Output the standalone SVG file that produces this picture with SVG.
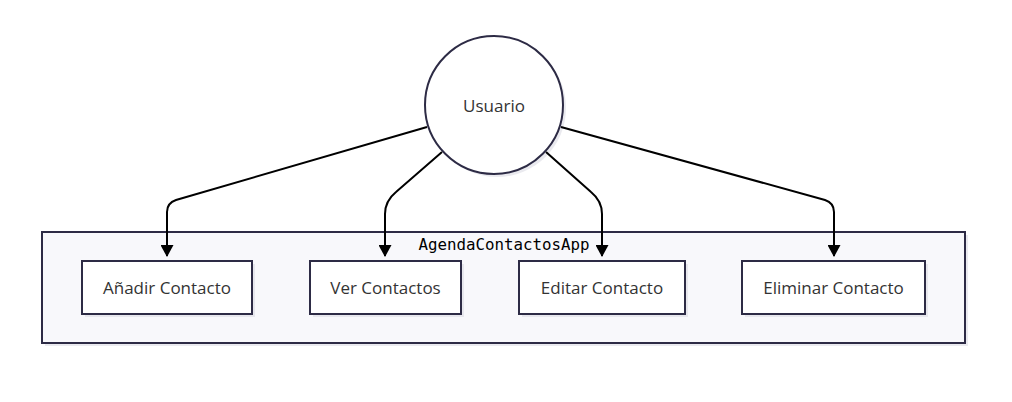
<svg xmlns="http://www.w3.org/2000/svg" width="1012" height="402" viewBox="0 0 1012 402">
<style>
.node{fill:#fff;stroke:#2d2b45;stroke-width:2}
.shadow{fill:#dcdce4;opacity:0.6}
.lbl{font-family:"Open Sans","Noto Sans",sans-serif;font-size:17px;fill:#333;text-anchor:middle;dominant-baseline:central}
.edge{fill:none;stroke:#000;stroke-width:2}
</style>
<defs>
<marker id="arr" viewBox="0 0 12 13" refX="11" refY="6.5" markerWidth="12" markerHeight="13" markerUnits="userSpaceOnUse" orient="auto">
<path d="M0,0 L12,6.5 L0,13 z" fill="#000"/>
</marker>
</defs>
<g id="cluster">
<rect x="45" y="235" width="923" height="111" class="shadow"/>
<rect x="42" y="232" width="923" height="111" fill="#f8f8fb" stroke="#2d2b45" stroke-width="2"/>
<text x="504" y="244" font-family="'DejaVu Sans Mono','Liberation Mono',monospace" font-size="15.8" fill="#000" text-anchor="middle" dominant-baseline="central">AgendaContactosApp</text>
</g>
<g id="usuario">
<circle cx="497" cy="108" r="69" class="shadow"/>
<circle cx="494" cy="105" r="69" class="node"/>
<text x="494" y="105" class="lbl">Usuario</text>
</g>
<g id="anadir">
<rect x="85" y="264" width="170" height="53" class="shadow"/>
<rect x="82" y="261" width="170" height="53" class="node"/>
<text x="167" y="287.5" class="lbl">Añadir Contacto</text>
</g>
<g id="ver">
<rect x="313" y="264" width="151" height="53" class="shadow"/>
<rect x="310" y="261" width="151" height="53" class="node"/>
<text x="385.5" y="287.5" class="lbl">Ver Contactos</text>
</g>
<g id="editar">
<rect x="522" y="264" width="166" height="53" class="shadow"/>
<rect x="519" y="261" width="166" height="53" class="node"/>
<text x="602" y="287.5" class="lbl">Editar Contacto</text>
</g>
<g id="eliminar">
<rect x="745" y="264" width="183" height="53" class="shadow"/>
<rect x="742" y="261" width="183" height="53" class="node"/>
<text x="833.5" y="287.5" class="lbl">Eliminar Contacto</text>
</g>
<g id="connectors">
<path class="edge" marker-end="url(#arr)" d="M427,127 L176,200 Q167,203 167,212 L167,256"/>
<path class="edge" marker-end="url(#arr)" d="M442,152 L396,192 Q385,201 385,214 L385,256"/>
<path class="edge" marker-end="url(#arr)" d="M546,152 L591,192 Q602,201 602,214 L602,256"/>
<path class="edge" marker-end="url(#arr)" d="M561,127 L825,200 Q834,203 834,212 L834,256"/>
</g>
</svg>
